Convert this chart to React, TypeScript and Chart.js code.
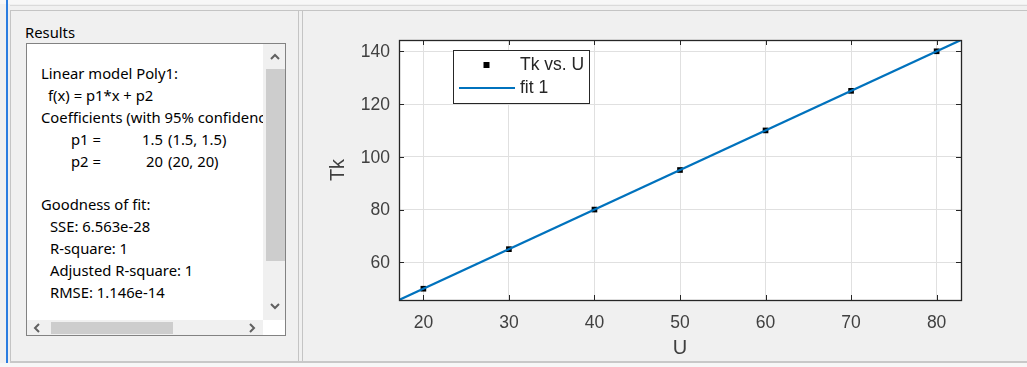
import React, { useEffect, useRef } from "react";
import { Chart, registerables } from "chart.js";

Chart.register(...registerables);

// ---- data ----
const uValues = [20, 30, 40, 50, 60, 70, 80];
const tkValues = [50, 65, 80, 95, 110, 125, 140];
const fitU = [17.15, 82.85];
const fitTk = [45.725, 144.275];
const xTickValues = [20, 30, 40, 50, 60, 70, 80];
const yTickValues = [60, 80, 100, 120, 140];
const xLimits = [17.15, 82.85];
const yLimits = [45.725, 144.275];
const seriesLabels = ["Tk vs. U", "fit 1"];
const xAxisTitle = "U";
const yAxisTitle = "Tk";

const resultsLines = [
  "Linear model Poly1:",
  "f(x) = p1*x + p2",
  "Coefficients (with 95% confidence bounds):",
  "p1 =|1.5|(1.5, 1.5)",
  "p2 =|20|(20, 20)",
  "",
  "Goodness of fit:",
  "SSE: 6.563e-28",
  "R-square: 1",
  "Adjusted R-square: 1",
  "RMSE: 1.146e-14",
];
const resultsIndent = [41, 48, 41, 71, 71, 41, 41, 50, 50, 50, 50];

const AXIS_FONT = "'Liberation Sans', Arial, Helvetica, sans-serif";
const UI_FONT = "'Noto Sans', 'Segoe UI', sans-serif";
const UI_SIZE = 14.8;
const FIT_BLUE = "#0072BD";

const mapPlugin = {
  id: "matlabAxes",
  beforeDraw(chart: any) {
    const { ctx, chartArea: a } = chart;
    ctx.save();
    ctx.fillStyle = "#ffffff";
    ctx.fillRect(a.left, a.top, a.right - a.left, a.bottom - a.top);
    ctx.restore();
  },
  afterDatasetsDraw(chart: any) {
    const { ctx, chartArea: a, scales } = chart;
    ctx.save();
    ctx.strokeStyle = "#262626";
    ctx.lineWidth = 1;
    ctx.beginPath();
    const tl = 5;
    for (const v of xTickValues) {
      const px = Math.round(scales.x.getPixelForValue(v)) + 0.5;
      ctx.moveTo(px, a.bottom);
      ctx.lineTo(px, a.bottom - tl);
      ctx.moveTo(px, a.top);
      ctx.lineTo(px, a.top + tl);
    }
    for (const v of yTickValues) {
      const py = Math.round(scales.y.getPixelForValue(v)) + 0.5;
      ctx.moveTo(a.left, py);
      ctx.lineTo(a.left + tl, py);
      ctx.moveTo(a.right, py);
      ctx.lineTo(a.right - tl, py);
    }
    ctx.stroke();
    ctx.strokeStyle = "#262626";
    ctx.lineWidth = 1.3;
    ctx.strokeRect(
      Math.round(a.left) + 0.5,
      Math.round(a.top) + 0.5,
      Math.round(a.right - a.left),
      Math.round(a.bottom - a.top)
    );
    ctx.restore();
  },
  afterDraw(chart: any) {
    // legend box inside the axes (upper left)
    const { ctx, chartArea: a } = chart;
    const ds = chart.data.datasets;
    const bx = a.left + 54;
    const by = a.top + 10;
    const bw = 136;
    const bh = 53;
    ctx.save();
    ctx.fillStyle = "#ffffff";
    ctx.fillRect(bx, by, bw, bh);
    ctx.strokeStyle = "#262626";
    ctx.lineWidth = 1;
    ctx.strokeRect(bx + 0.5, by + 0.5, bw, bh);
    ctx.font = `17.5px ${AXIS_FONT}`;
    ctx.fillStyle = "#262626";
    ctx.textBaseline = "middle";
    ctx.beginPath();
    ctx.fillStyle = ds[0].pointBackgroundColor;
    ctx.rect(bx + 30.5, by + 12, 6, 6);
    ctx.fill();
    ctx.fillStyle = "#262626";
    ctx.fillText(ds[0].label, bx + 67, by + 15);
    ctx.strokeStyle = ds[1].borderColor;
    ctx.lineWidth = 2.2;
    ctx.beginPath();
    ctx.moveTo(bx + 6, by + 38);
    ctx.lineTo(bx + 62, by + 38);
    ctx.stroke();
    ctx.fillText(ds[1].label, bx + 67, by + 38);
    ctx.restore();
  },
};

function ChartPanel() {
  const ref = useRef<HTMLCanvasElement>(null);
  useEffect(() => {
    if (!ref.current) return;
    const chart = new Chart(ref.current, {
      type: "scatter",
      data: {
        datasets: [
          {
            label: seriesLabels[0],
            data: uValues.map((u, i) => ({ x: u, y: tkValues[i] })),
            pointBackgroundColor: "#000000",
            pointBorderColor: "#000000",
            pointStyle: "rect",
            pointRadius: 4,
            pointBorderWidth: 0,
            showLine: false,
            order: 1,
          } as any,
          {
            label: seriesLabels[1],
            data: fitU.map((u, i) => ({ x: u, y: fitTk[i] })),
            borderColor: FIT_BLUE,
            backgroundColor: FIT_BLUE,
            borderWidth: 2.2,
            pointRadius: 0,
            showLine: true,
            order: 0,
          } as any,
        ],
      },
      options: {
        responsive: false,
        animation: false,
        layout: { padding: { left: 0, right: 61, top: 28, bottom: 0 } },
        plugins: { legend: { display: false }, tooltip: { enabled: false } },
        scales: {
          x: {
            type: "linear",
            min: xLimits[0],
            max: xLimits[1],
            afterBuildTicks: (s: any) => {
              s.ticks = xTickValues.map((v) => ({ value: v }));
            },
            afterFit: (s: any) => {
              s.height = 61;
            },
            grid: { color: "#e0e0e0", drawTicks: false },
            border: { display: false },
            ticks: {
              color: "#404040",
              font: { family: AXIS_FONT, size: 17.5 },
              padding: 13,
              maxRotation: 0,
              autoSkip: false,
              callback: (v: any) => String(v),
            },
            title: {
              display: true,
              text: xAxisTitle,
              color: "#404040",
              font: { family: AXIS_FONT, size: 20 },
              padding: { top: 0, bottom: 1 },
            },
          },
          y: {
            type: "linear",
            min: yLimits[0],
            max: yLimits[1],
            afterBuildTicks: (s: any) => {
              s.ticks = yTickValues.map((v) => ({ value: v }));
            },
            afterFit: (s: any) => {
              s.width = 97;
            },
            grid: { color: "#e0e0e0", drawTicks: false },
            border: { display: false },
            ticks: {
              color: "#404040",
              font: { family: AXIS_FONT, size: 17.5 },
              padding: 9,
              labelOffset: 1,
              autoSkip: false,
              callback: (v: any) => String(v),
            },
            title: {
              display: true,
              text: yAxisTitle,
              color: "#404040",
              font: { family: AXIS_FONT, size: 20 },
              padding: { top: 24, bottom: 0 },
            },
          },
        },
      },
      plugins: [mapPlugin],
    } as any);
    return () => chart.destroy();
  }, []);
  return (
    <canvas
      ref={ref}
      width={720}
      height={349}
      style={{ position: "absolute", left: 302, top: 12, width: 720, height: 349 }}
    />
  );
}

function Chevron({ x, y, dir }: { x: number; y: number; dir: string }) {
  const pts: Record<string, string> = {
    up: "-4,2 0,-2 4,2",
    down: "-4,-2 0,2 4,-2",
    left: "2,-4 -2,0 2,4",
    right: "-2,-4 2,0 -2,4",
  };
  return (
    <svg
      width={12}
      height={12}
      style={{ position: "absolute", left: x - 6, top: y - 6 }}
      viewBox="-6 -6 12 12"
    >
      <polyline points={pts[dir]} fill="none" stroke="#606060" strokeWidth={2} />
    </svg>
  );
}

function ResultsPanel() {
  const lineH = 21.9;
  const y0 = 72;
  const txt = (extra: any) => ({
    position: "absolute" as const,
    font: `${UI_SIZE}px ${UI_FONT}`,
    lineHeight: "20px",
    whiteSpace: "pre" as const,
    color: "#000",
    ...extra,
  });
  return (
    <>
      <div style={txt({ left: 25, top: 23, lineHeight: "18px" })}>Results</div>
      <div
        style={{
          position: "absolute",
          left: 26,
          top: 43,
          width: 260,
          height: 293,
          background: "#ffffff",
          border: "1px solid #828282",
          boxSizing: "border-box",
          overflow: "hidden",
        }}
      >
        {resultsLines.map((line, i) => {
          const parts = line.split("|");
          const top = y0 + lineH * i - 43 - 10;
          const left = resultsIndent[i] - 27;
          if (parts.length === 3) {
            return (
              <React.Fragment key={i}>
                <span style={txt({ left, top })}>{parts[0]}</span>
                <span style={txt({ right: 259 - (164 - 27), top, textAlign: "right" })}>{parts[1]}</span>
                <span style={txt({ left: 168 - 27, top })}>{parts[2]}</span>
              </React.Fragment>
            );
          }
          return (
            <span key={i} style={txt({ left, top })}>
              {line}
            </span>
          );
        })}
        {/* vertical scrollbar */}
        <div style={{ position: "absolute", left: 236, top: 0, width: 24, height: 276, background: "#f0f0f0" }} />
        <div style={{ position: "absolute", left: 239, top: 25, width: 19, height: 192, background: "#cdcdcd" }} />
        {/* horizontal scrollbar */}
        <div style={{ position: "absolute", left: 0, top: 276, width: 236, height: 16, background: "#f0f0f0" }} />
        <div style={{ position: "absolute", left: 24, top: 278, width: 122, height: 12, background: "#cdcdcd" }} />
        <div style={{ position: "absolute", left: 236, top: 276, width: 24, height: 16, background: "#ffffff" }} />
      </div>
      <Chevron x={275} y={57} dir="up" />
      <Chevron x={275} y={306} dir="down" />
      <Chevron x={37} y={328} dir="left" />
      <Chevron x={252} y={328} dir="right" />
    </>
  );
}

export default function App() {
  return (
    <div
      style={{
        position: "fixed",
        left: 0,
        top: 0,
        width: 1027,
        height: 367,
        background: "#f0f0f0",
        overflow: "hidden",
      }}
    >
      <div style={{ position: "absolute", left: 0, top: 0, width: 1027, height: 4, background: "#f7f7f7" }} />
      <div style={{ position: "absolute", left: 10, top: 5, width: 1017, height: 1, background: "#dadada" }} />
      <div style={{ position: "absolute", left: 10, top: 10, width: 1017, height: 1, background: "#c4c4c4" }} />
      <div style={{ position: "absolute", left: 6, top: 0, width: 2, height: 367, background: "#2b7de0" }} />
      <div style={{ position: "absolute", left: 10, top: 10, width: 1, height: 352, background: "#c4c4c4" }} />
      <div style={{ position: "absolute", left: 298, top: 10, width: 1, height: 352, background: "#c4c4c4" }} />
      <div style={{ position: "absolute", left: 302, top: 10, width: 1, height: 352, background: "#c4c4c4" }} />
      <div style={{ position: "absolute", left: 10, top: 361, width: 1017, height: 2, background: "#c8c8c8" }} />
      <div style={{ position: "absolute", left: 0, top: 363, width: 1027, height: 4, background: "#f7f7f7" }} />
      <ResultsPanel />
      <ChartPanel />
    </div>
  );
}
